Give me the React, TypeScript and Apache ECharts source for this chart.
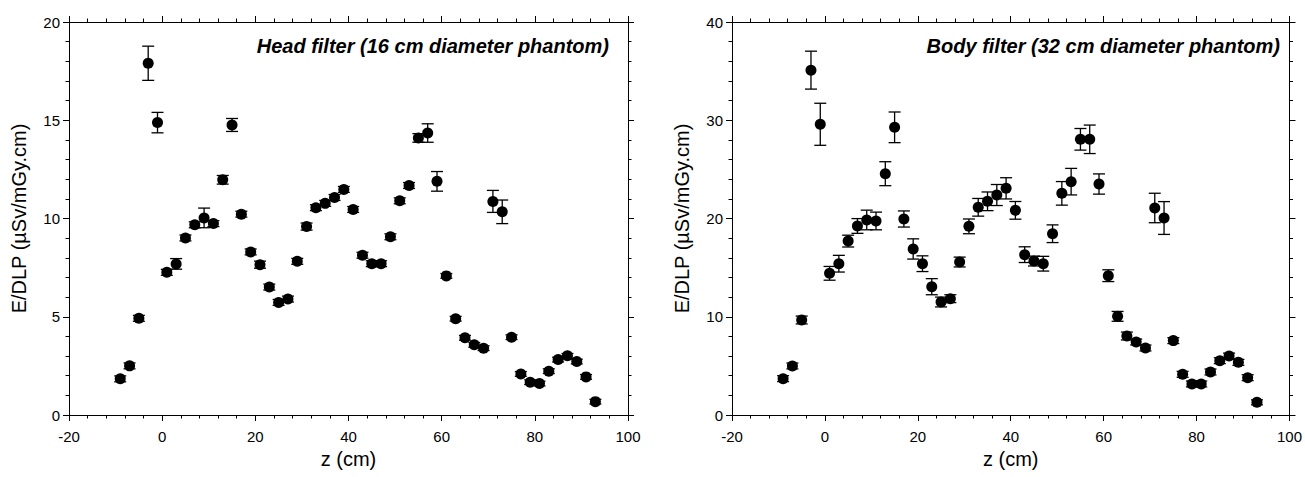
import React, { useEffect, useRef } from "react";
import * as echarts from "echarts";

const zValues = [
  -9, -7, -5, -3, -1, 1, 3, 5, 7, 9, 11, 13, 15, 17, 19, 21, 23, 25, 27, 29,
  31, 33, 35, 37, 39, 41, 43, 45, 47, 49, 51, 53, 55, 57, 59, 61, 63, 65, 67, 69,
  71, 73, 75, 77, 79, 81, 83, 85, 87, 89, 91, 93,
];

const headValues = [
  1.84, 2.5, 4.92, 17.9, 14.88, 7.26, 7.69, 9.01, 9.68, 10.03,
  9.74, 11.97, 14.76, 10.22, 8.3, 7.65, 6.51, 5.73, 5.9, 7.82,
  9.59, 10.55, 10.77, 11.07, 11.48, 10.46, 8.13, 7.7, 7.7, 9.07,
  10.9, 11.68, 14.1, 14.35, 11.89, 7.08, 4.9, 3.93, 3.57, 3.4,
  10.87, 10.34, 3.96, 2.09, 1.67, 1.6, 2.23, 2.82, 3.01, 2.72,
  1.94, 0.68,
];
const headErrors = [
  0.15, 0.15, 0.15, 0.87, 0.52, 0.15, 0.27, 0.15, 0.15, 0.5,
  0.15, 0.22, 0.33, 0.15, 0.15, 0.18, 0.15, 0.15, 0.15, 0.15,
  0.18, 0.15, 0.15, 0.15, 0.15, 0.15, 0.15, 0.15, 0.15, 0.15,
  0.15, 0.15, 0.22, 0.47, 0.5, 0.12, 0.12, 0.12, 0.12, 0.12,
  0.56, 0.6, 0.12, 0.12, 0.12, 0.12, 0.12, 0.12, 0.12, 0.12,
  0.12, 0.12,
];

const bodyValues = [
  3.7, 4.99, 9.67, 35.1, 29.59, 14.42, 15.4, 17.7, 19.24, 19.85,
  19.75, 24.56, 29.28, 19.95, 16.9, 15.4, 13.06, 11.5, 11.84, 15.57,
  19.2, 21.14, 21.75, 22.39, 23.07, 20.83, 16.32, 15.67, 15.4, 18.45,
  22.56, 23.75, 28.06, 28.06, 23.51, 14.18, 10.04, 8.04, 7.43, 6.82,
  21.07, 20.05, 7.57, 4.14, 3.16, 3.16, 4.38, 5.53, 6.0, 5.36,
  3.8, 1.29,
];
const bodyErrors = [
  0.3, 0.3, 0.4, 1.93, 2.14, 0.7, 0.85, 0.6, 0.75, 1.0,
  0.9, 1.22, 1.56, 0.82, 1.03, 0.8, 0.82, 0.5, 0.4, 0.5,
  0.75, 0.9, 0.95, 1.07, 1.08, 0.9, 0.8, 0.5, 0.75, 0.9,
  1.2, 1.35, 1.1, 1.45, 1.03, 0.6, 0.5, 0.4, 0.3, 0.3,
  1.5, 1.67, 0.3, 0.3, 0.3, 0.3, 0.3, 0.3, 0.3, 0.3,
  0.3, 0.25,
];

const panelTitles = [
  "Head filter (16 cm diameter phantom)",
  "Body filter (32 cm diameter phantom)",
];
const xTicks = { min: -20, max: 100, interval: 20 };
const yHead = { min: 0, max: 20, interval: 5 };
const yBody = { min: 0, max: 40, interval: 10 };
const xName = "z (cm)";
const yName = "E/DLP (µSv/mGy.cm)";

const FONT = '"Liberation Sans", Arial, Helvetica, sans-serif';

function xAxisDef(gridIndex: number, position: "bottom" | "top") {
  const isBottom = position === "bottom";
  return {
    type: "value",
    gridIndex,
    position,
    min: xTicks.min,
    max: xTicks.max,
    interval: xTicks.interval,
    name: isBottom ? xName : "",
    nameLocation: "middle",
    nameGap: 27,
    nameTextStyle: { fontSize: 20, color: "#000", fontFamily: FONT },
    axisLine: { show: true, onZero: false, lineStyle: { color: "#000", width: 1 } },
    axisTick: { show: true, length: 6, inside: false, lineStyle: { color: "#000" } },
    minorTick: { show: true, splitNumber: 5, length: 3.5, lineStyle: { color: "#000" } },
    splitLine: { show: false },
    axisLabel: {
      show: isBottom,
      color: "#000",
      fontSize: 15,
      fontFamily: FONT,
      margin: 14,
    },
  };
}

function yAxisDef(gridIndex: number, position: "left" | "right", cfg: any, minorSplit: number) {
  const isLeft = position === "left";
  return {
    type: "value",
    gridIndex,
    position,
    min: cfg.min,
    max: cfg.max,
    interval: cfg.interval,
    name: isLeft ? yName : "",
    nameLocation: "middle",
    nameRotate: 90,
    nameGap: 40,
    nameTextStyle: { fontSize: 20, color: "#000", fontFamily: FONT },
    axisLine: { show: true, onZero: false, lineStyle: { color: "#000", width: 1 } },
    axisTick: { show: true, length: 6, inside: false, lineStyle: { color: "#000" } },
    minorTick: { show: true, splitNumber: minorSplit, length: 3.5, lineStyle: { color: "#000" } },
    splitLine: { show: false },
    axisLabel: {
      show: isLeft,
      color: "#000",
      fontSize: 15,
      fontFamily: FONT,
      margin: 9,
    },
  };
}

function errorSeries(xAxisIndex: number, yAxisIndex: number, values: number[], errs: number[]) {
  const data = zValues.map((z, i) => [z, values[i] - errs[i], values[i] + errs[i]]);
  return {
    type: "custom",
    xAxisIndex,
    yAxisIndex,
    z: 1,
    silent: true,
    encode: { x: 0, y: [1, 2] },
    data,
    renderItem: (params: any, api: any) => {
      const x = api.value(0);
      const lo = api.value(1);
      const hi = api.value(2);
      const pHi = api.coord([x, hi]);
      const pLo = api.coord([x, lo]);
      const w = 6;
      const style = { stroke: "#000", lineWidth: 1.3 };
      return {
        type: "group",
        children: [
          { type: "line", shape: { x1: pHi[0], y1: pHi[1], x2: pLo[0], y2: pLo[1] }, style },
          { type: "line", shape: { x1: pHi[0] - w, y1: pHi[1], x2: pHi[0] + w, y2: pHi[1] }, style },
          { type: "line", shape: { x1: pLo[0] - w, y1: pLo[1], x2: pLo[0] + w, y2: pLo[1] }, style },
        ],
      };
    },
  };
}

function scatterSeries(xAxisIndex: number, yAxisIndex: number, values: number[]) {
  return {
    type: "scatter",
    xAxisIndex,
    yAxisIndex,
    z: 2,
    symbol: "circle",
    symbolSize: 11,
    itemStyle: { color: "#000", opacity: 1 },
    data: zValues.map((z, i) => [z, values[i]]),
  };
}

export default function App() {
  const ref = useRef<HTMLDivElement>(null);
  useEffect(() => {
    if (!ref.current) return;
    const chart = echarts.init(ref.current, undefined, { renderer: "svg" });
    chart.setOption({
      animation: false,
      backgroundColor: "#fff",
      grid: [
        { left: 69, top: 22, width: 559, height: 393 },
        { left: 732, top: 22, width: 562, height: 393 },
      ],
      xAxis: [
        xAxisDef(0, "bottom"),
        xAxisDef(0, "top"),
        xAxisDef(1, "bottom"),
        xAxisDef(1, "top"),
      ],
      yAxis: [
        yAxisDef(0, "left", yHead, 5),
        yAxisDef(0, "right", yHead, 5),
        yAxisDef(1, "left", yBody, 5),
        yAxisDef(1, "right", yBody, 5),
      ],
      graphic: [
        {
          type: "text",
          x: 609,
          y: 46,
          style: {
            text: panelTitles[0],
            align: "right",
            verticalAlign: "middle",
            fontSize: 20,
            fontWeight: "bold",
            fontStyle: "italic",
            fontFamily: FONT,
            fill: "#000",
          },
        },
        {
          type: "text",
          x: 1280,
          y: 46,
          style: {
            text: panelTitles[1],
            align: "right",
            verticalAlign: "middle",
            fontSize: 20,
            fontWeight: "bold",
            fontStyle: "italic",
            fontFamily: FONT,
            fill: "#000",
          },
        },
      ],
      series: [
        errorSeries(0, 0, headValues, headErrors),
        scatterSeries(0, 0, headValues),
        errorSeries(2, 2, bodyValues, bodyErrors),
        scatterSeries(2, 2, bodyValues),
      ],
    });
    return () => chart.dispose();
  }, []);
  return (
    <div
      ref={ref}
      style={{ position: "absolute", left: 0, top: 0, width: 1305, height: 477, background: "#fff" }}
    />
  );
}
